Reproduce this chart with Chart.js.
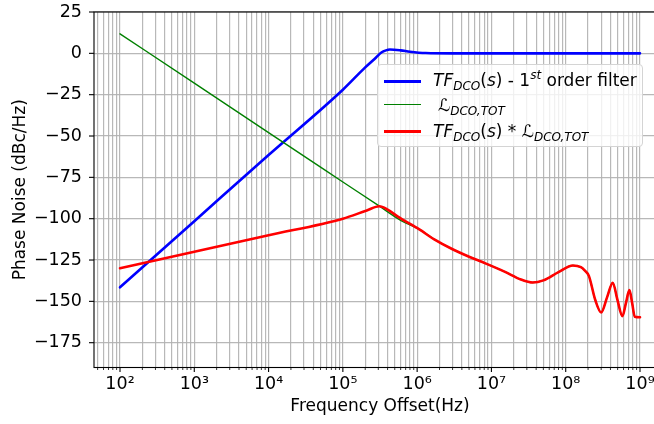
<!DOCTYPE html>
<html>
<head>
<meta charset="utf-8">
<script src="https://cdn.jsdelivr.net/npm/chart.js@4.4.0/dist/chart.umd.min.js"></script>
<style>
html, body { margin: 0; padding: 0; overflow: hidden; background: #fff; }
#wrap { position: relative; width: 654px; height: 424px; overflow: hidden; }
#chart { position: absolute; left: 0; top: 0; }
.legend {
    position: absolute; left: 377px; top: 64px; width: 264px; height: 81px;
    border: 1px solid #d4d4d4; border-radius: 4px; background: rgba(255,255,255,0.8);
    font-family: 'DejaVu Sans', sans-serif; font-size: 17px; color: #000;
}
.legend .sw { position: absolute; left: 6px; width: 37px; }
.legend .txt { position: absolute; line-height: 17px; height: 17px; white-space: nowrap; }
.legend i { font-style: italic; }
.legend .sub { position: relative; top: 4px; font-size: 12px; font-style: italic; }
.legend .sup { position: relative; top: -7px; font-size: 12px; font-style: italic; }
</style>
</head>
<body>
<div id="wrap">
    <canvas id="chart" width="672" height="424"></canvas>
    <div class="legend">
        <div class="sw" style="top:14.5px;height:3px;background:#0000ff"></div>
        <div class="txt" style="left:55px;top:6.5px"><i>TF</i><span class="sub">DCO</span>(<i>s</i>) - 1<span class="sup">st</span> order filter</div>
        <div class="sw" style="top:38.5px;height:1.5px;background:#008000"></div>
        <div class="txt" style="left:60px;top:31.5px">ℒ<span class="sub">DCO,TOT</span></div>
        <div class="sw" style="top:64.5px;height:3px;background:#ff0000"></div>
        <div class="txt" style="left:55px;top:57.5px"><i>TF</i><span class="sub">DCO</span>(<i>s</i>) * ℒ<span class="sub">DCO,TOT</span></div>
    </div>
</div>
<script>
// ----- data -----
const blueFreq = [1e2, 1e3, 1e4, 1e5, 2e5, 2.8e5, 3.3e5, 3.8e5, 4.3e5, 6e5, 8e5, 1.3e6, 3e6, 1e9];
const blueDb   = [-141.5, -101.5, -61.5, -22, -8.5, -2.5, 0.5, 1.8, 2.3, 1.8, 1.0, 0.2, 0, 0];

const greenFreq = [1e2, 1e3, 1e4, 1e5, 3e5, 6e5, 1.07e6, 1.7e6, 3e6, 5e6, 8.3e6, 1.5e7, 2.5e7, 3.6e7, 5e7, 8e7,
                   1.25e8, 1.6e8, 1.8e8, 2.05e8, 2.5e8, 3e8, 3.6e8, 4.3e8, 4.95e8, 5.8e8, 6.45e8, 7.2e8, 7.85e8, 8.5e8, 1e9];
const greenDb   = [11.8, -18, -48, -77.8, -92, -101, -106.5, -112.5, -118.5, -123, -127, -132, -136.8, -138.6, -137.3, -132.3,
                   -128.3, -129.3, -131.3, -134.6, -149.2, -156.7, -147.6, -138.7, -148.8, -158.9, -151.2, -143.2, -151.2, -159.3, -159.6];

const redFreq = [1e2, 1e3, 1e4, 1e5, 2.1e5, 3.1e5, 4e5, 5.5e5, 1.07e6, 1.7e6, 3e6, 5e6, 8.3e6, 1.5e7, 2.5e7, 3.6e7, 5e7, 8e7,
                 1.25e8, 1.6e8, 1.8e8, 2.05e8, 2.5e8, 3e8, 3.6e8, 4.3e8, 4.95e8, 5.8e8, 6.45e8, 7.2e8, 7.85e8, 8.5e8, 1e9];
const redDb   = [-130, -120, -110, -100, -95, -92.5, -94.5, -98.8, -106.5, -112.5, -118.5, -123, -127, -132, -136.8, -138.6, -137.3, -132.3,
                 -128.3, -129.3, -131.3, -134.6, -149.2, -156.7, -147.6, -138.7, -148.8, -158.9, -151.2, -143.2, -151.2, -159.3, -159.6];

const yTicks = [-175, -150, -125, -100, -75, -50, -25, 0, 25];
const xDecades = [1, 2, 3, 4, 5, 6, 7, 8, 9];
const supDigits = { 1: '¹', 2: '²', 3: '³', 4: '⁴', 5: '⁵', 6: '⁶', 7: '⁷', 8: '⁸', 9: '⁹' };

const xMin = Math.pow(10, 1.65);
const xMax = Math.pow(10, 9.35);
const FONT = "'DejaVu Sans', sans-serif";

function pts(f, v) { return f.map((x, i) => ({ x: x, y: v[i] })); }
function isMajor(v) { const l = Math.log10(v); return Math.abs(l - Math.round(l)) < 1e-9; }

// ----- spines and tick marks like matplotlib -----
const spines = {
    id: 'spines',
    afterDatasetsDraw(chart) {
        const { ctx, chartArea: a, scales: { x, y } } = chart;
        ctx.save();
        ctx.strokeStyle = '#000';
        ctx.lineWidth = 1.1;
        ctx.strokeRect(a.left, a.top, a.right - a.left, a.bottom - a.top);
        x.ticks.forEach(t => {
            const px = x.getPixelForValue(t.value);
            const major = isMajor(t.value);
            ctx.lineWidth = major ? 1.1 : 0.8;
            ctx.beginPath();
            ctx.moveTo(px, a.bottom);
            ctx.lineTo(px, a.bottom + (major ? 4.5 : 2.5));
            ctx.stroke();
        });
        ctx.lineWidth = 1.1;
        y.ticks.forEach(t => {
            const py = y.getPixelForValue(t.value);
            ctx.beginPath();
            ctx.moveTo(a.left, py);
            ctx.lineTo(a.left - 5, py);
            ctx.stroke();
        });
        ctx.restore();
    }
};

const ctx = document.getElementById('chart').getContext('2d');
new Chart(ctx, {
    type: 'line',
    data: {
        datasets: [
            { label: 'TF_DCO(s) - 1st order filter', data: pts(blueFreq, blueDb), borderColor: '#0000ff', borderWidth: 2.6, order: 2 },
            { label: 'L_DCO,TOT', data: pts(greenFreq, greenDb), borderColor: '#008000', borderWidth: 1.4, order: 1 },
            { label: 'TF_DCO(s) * L_DCO,TOT', data: pts(redFreq, redDb), borderColor: '#ff0000', borderWidth: 2.6, order: 0 }
        ]
    },
    options: {
        responsive: false,
        animation: false,
        devicePixelRatio: 1,
        layout: { padding: { top: 12, right: 6, left: 0, bottom: 0 } },
        elements: {
            point: { radius: 0 },
            line: { cubicInterpolationMode: 'monotone', fill: false, borderCapStyle: 'round', borderJoinStyle: 'round' }
        },
        plugins: { legend: { display: false }, tooltip: { enabled: false } },
        scales: {
            x: {
                type: 'logarithmic',
                min: xMin,
                max: xMax,
                afterFit: s => { s.height = 56.5; s.paddingLeft = 0; s.paddingRight = 0; },
                afterBuildTicks: s => {
                    const list = [];
                    for (let d = 1; d <= 9; d++) {
                        for (let k = 1; k <= 9; k++) {
                            const v = k * Math.pow(10, d);
                            if (v >= xMin && v <= xMax) list.push({ value: v });
                        }
                    }
                    s.ticks = list;
                },
                grid: { color: 'rgba(176,176,176,0.9)', lineWidth: 1.2, drawTicks: false },
                border: { display: false },
                ticks: {
                    autoSkip: false,
                    maxRotation: 0,
                    padding: 6,
                    color: '#000',
                    font: { family: FONT, size: 17.5 },
                    callback: v => {
                        if (!isMajor(v)) return '';
                        const e = Math.round(Math.log10(v));
                        return xDecades.includes(e) ? '10' + supDigits[e] : '';
                    }
                },
                title: {
                    display: true,
                    text: 'Frequency Offset(Hz)',
                    color: '#000',
                    font: { family: FONT, size: 17 },
                    padding: { top: 0, bottom: 7 }
                }
            },
            y: {
                min: -190,
                max: 25,
                afterFit: s => { s.width = 94; s.paddingTop = 0; s.paddingBottom = 0; },
                afterBuildTicks: s => { s.ticks = yTicks.map(v => ({ value: v })); },
                grid: { color: 'rgba(176,176,176,0.9)', lineWidth: 1.2, drawTicks: false },
                border: { display: false },
                ticks: {
                    padding: 12,
                    color: '#000',
                    font: { family: FONT, size: 17.5 },
                    callback: v => (v < 0 ? '\u2212' + Math.abs(v) : String(v))
                },
                title: {
                    display: true,
                    text: 'Phase Noise (dBc/Hz)',
                    color: '#000',
                    font: { family: FONT, size: 17 },
                    padding: { top: 10, bottom: 0 }
                }
            }
        }
    },
    plugins: [spines]
});
</script>
</body>
</html>
